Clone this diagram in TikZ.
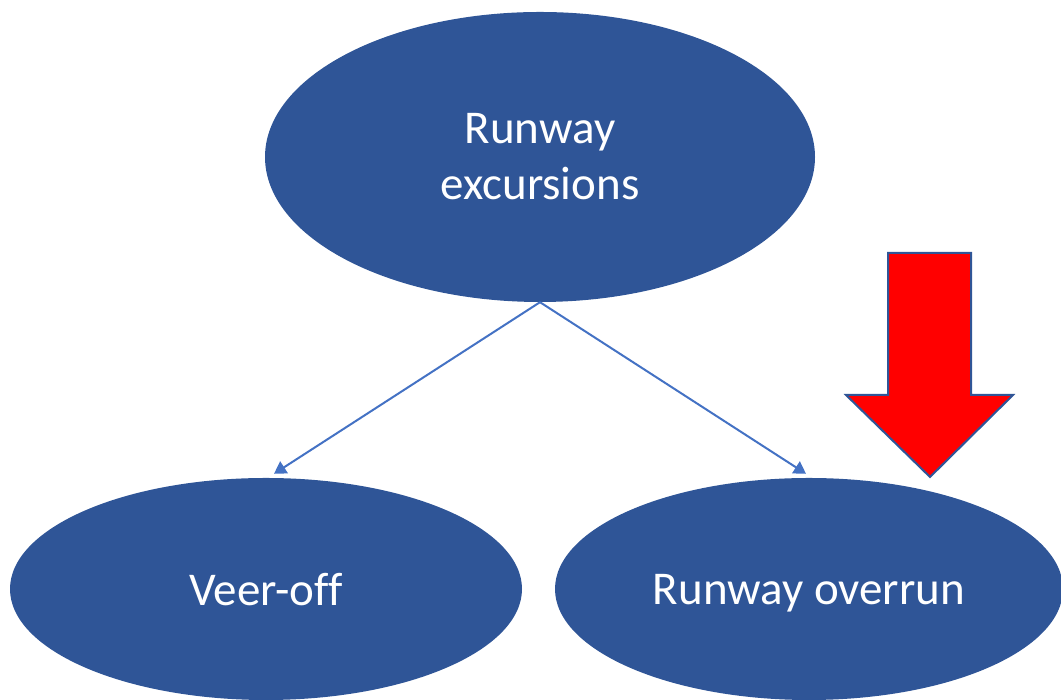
\documentclass[tikz,border=0pt]{standalone}
\usepackage{fontspec}
\setmainfont[Ligatures=NoCommon]{Carlito}
\usetikzlibrary{positioning,arrows.meta,shapes.geometric}
\definecolor{ovalBlue}{HTML}{2F5597}
\definecolor{linkBlue}{HTML}{4472C4}
\definecolor{alertRed}{HTML}{FF0000}

\begin{document}
\begin{tikzpicture}[
  x=1pt, y=1pt,
  font=\fontsize{47}{56}\selectfont,
  >={Triangle[length=12pt,width=14pt]},
  oval/.style={ellipse, fill=ovalBlue, draw=none, text=white,
               align=center, inner sep=0pt},
  leaf/.style={oval, minimum height=222pt, text depth=0pt},
  link/.style={->, draw=linkBlue, line width=2pt},
  bigarrow/.style={fill=alertRed, draw=ovalBlue, line width=2pt, line join=miter}
]
\useasboundingbox (0,0) rectangle (1061,700);

% ===== Ovals =====
\node[oval, minimum width=550pt, minimum height=290pt] (excur)
  at (540,543) {Runway\\excursions};
\node[leaf, minimum width=512pt] (veer)
  at (266,111) {Veer-off};
\node[leaf, minimum width=508pt] (overrun)
  at (809,111) {Runway overrun};

% ===== Links =====
\draw[link] (excur.south) -- ([xshift=8pt,yshift=4pt]veer.north);
\draw[link] (excur.south) -- ([xshift=-3pt,yshift=4pt]overrun.north);

% ===== Red arrow =====
\draw[bigarrow] (888,447) -- (971,447) -- (971,305) -- (1013,305)
  -- (930,223) -- (846,305) -- (888,305) -- cycle;

\end{tikzpicture}
\end{document}
